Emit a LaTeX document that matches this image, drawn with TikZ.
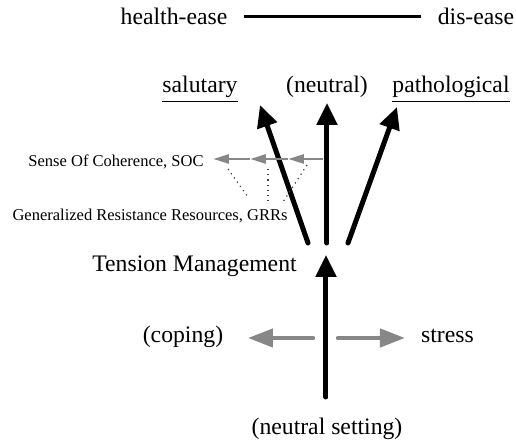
\documentclass[tikz,border=0pt]{standalone}
\usepackage{fontspec}
\setmainfont{Liberation Serif}
\usetikzlibrary{arrows.meta,positioning}
\definecolor{arrowgray}{RGB}{135,135,135}
\tikzset{
    lbl/.style={font=\fontsize{11.85}{14}\selectfont, anchor=base, inner sep=0pt},
    smalllbl/.style={font=\fontsize{8.25}{10}\selectfont, anchor=base, inner sep=0pt},
    bigarrow/.style={line width=2.5pt, line cap=round, -{Triangle[length=11pt,width=10pt]}},
    sidearrow/.style={arrowgray, line width=2.2pt, line cap=round, -{Triangle[length=12.5pt,width=9pt]}},
    socarrow/.style={arrowgray, line width=1.4pt, -{Triangle[length=8pt,width=4.5pt]}},
    guide/.style={dotted, line width=0.6pt, black!75}
}

\begin{document}
\begin{tikzpicture}[x=0.5pt,y=-0.5pt]
            \useasboundingbox (0,0) rectangle (516,442);
            % top scale
            \node[lbl] (health) at (174,25) {health-ease};
            \node[lbl] (disease) at (476,25) {dis-ease};
            \draw[line width=1.5pt] ([xshift=8pt]health.east) -- ([xshift=-8pt]disease.west);
            % outcomes
            \node[lbl] (salutary) at (200,93) {\underline{salutary}};
            \node[lbl] (neutral) at (327,93) {(neutral)};
            \node[lbl] (patho) at (451,93) {\underline{pathological}};
            \coordinate (salbase) at (308,243);
            \coordinate (saltip) at (260,105);
            \coordinate (neubase) at (327,243);
            \coordinate (neutip) at (327,103);
            \coordinate (patbase) at (348,243);
            \coordinate (pattip) at (397,107);
            \draw[bigarrow] (salbase) -- (saltip);
            \draw[bigarrow] (neubase) -- (neutip);
            \draw[bigarrow] (patbase) -- (pattip);
            % SOC and GRRs
            \node[smalllbl] (soc) at (116,167) {Sense Of Coherence, SOC};
            \node[smalllbl] (grr) at (150,221) {Generalized Resistance Resources, GRRs};
            \coordinate (soc0) at (323,159);
            \coordinate (soc1) at (288,159);
            \coordinate (soc2) at (250,159);
            \coordinate (soc3) at (213,159);
            \draw[socarrow] (soc0) -- (soc1);
            \draw[socarrow] (soc1) -- (soc2);
            \draw[socarrow] (soc2) -- (soc3);
            \draw[guide] (228,169) -- (248,197);
            \draw[guide] (268,169) -- (268,202);
            \draw[guide] (307,165) -- (283,202);
            % tension management
            \node[lbl] (tension) at (194.5,272) {Tension Management};
            \node[lbl] (setting) at (327,435) {(neutral setting)};
            \coordinate (setbase) at (326,397);
            \coordinate (settip) at (326,255);
            \draw[bigarrow] (setbase) -- (settip);
            % coping and stress
            \node[lbl] (coping) at (183,343) {(coping)};
            \node[lbl] (stress) at (447.5,343) {stress};
            \coordinate (copetail) at (313,338);
            \coordinate (copetip) at (248,338);
            \coordinate (stresstail) at (338,338);
            \coordinate (stresstip) at (405,338);
            \draw[sidearrow] (copetail) -- (copetip);
            \draw[sidearrow] (stresstail) -- (stresstip);
        \end{tikzpicture}
\end{document}
